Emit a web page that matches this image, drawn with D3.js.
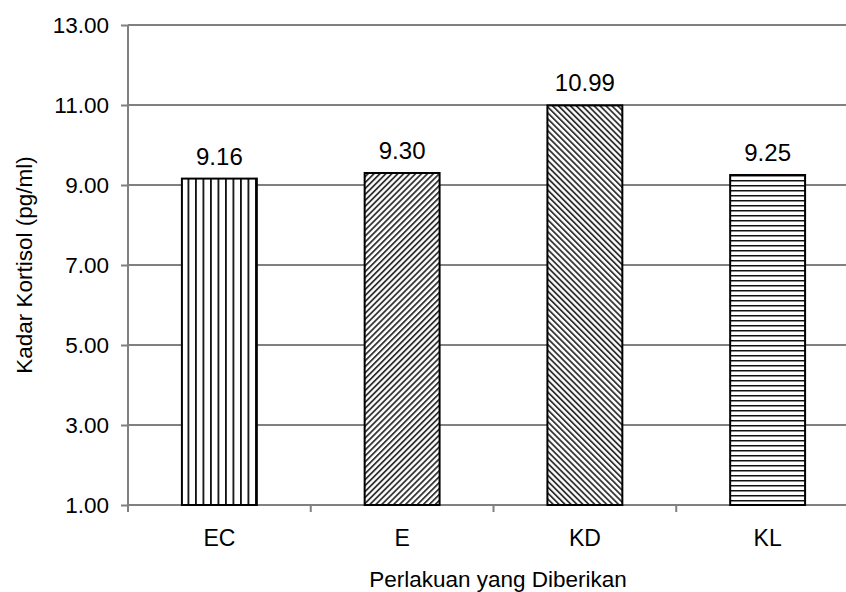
<!DOCTYPE html>
<html><head><meta charset="utf-8">
<script src="https://cdn.jsdelivr.net/npm/d3@7"></script>
<style>body{margin:0;background:#fff}svg{display:block;font-family:"Liberation Sans",Arial,sans-serif}</style>
</head><body><svg id="c" width="846" height="592"></svg>
<script>
const categories = ["EC","E","KD","KL"];
const values = [9.16, 9.30, 10.99, 9.25];
const valueLabels = ["9.16","9.30","10.99","9.25"];
const yTicks = [1,3,5,7,9,11,13];
const patterns = ["vert","diagUp","diagDown","horiz"];

const svg = d3.select("#c");
const m = {l:128, t:25, r:-13, b:87};
const W = 846, H = 592;
const FF = "Liberation Sans, Arial, sans-serif";
const x = d3.scaleBand().domain(categories).range([m.l, W - m.r]).paddingInner(0.59).paddingOuter(0.295);
const xb = d3.scaleBand().domain(categories).range([m.l, W - m.r]);
const y = d3.scaleLinear().domain([1,13]).range([H - m.b, m.t]);

const defs = svg.append("defs");
function pat(id, w, h, lines, rot){
  const p = defs.append("pattern").attr("id", id).attr("patternUnits","userSpaceOnUse")
    .attr("width", w).attr("height", h);
  if (rot) p.attr("patternTransform", "rotate(" + rot + ")");
  p.append("rect").attr("width", w).attr("height", h).attr("fill","#fff");
  lines(p);
}
pat("vert", 7.5, 10, p => p.append("rect").attr("x",0).attr("y",0).attr("width",1.8).attr("height",10).attr("fill","#111"));
pat("horiz", 10, 5, p => p.append("rect").attr("x",0).attr("y",0).attr("width",10).attr("height",1.5).attr("fill","#111"));
pat("diagUp", 4.2, 10, p => p.append("rect").attr("x",0).attr("y",0).attr("width",1.8).attr("height",10).attr("fill","#333"), 45);
pat("diagDown", 4.2, 10, p => p.append("rect").attr("x",0).attr("y",0).attr("width",1.8).attr("height",10).attr("fill","#333"), -45);

// gridlines
svg.append("g").selectAll("line").data(yTicks.slice(1)).join("line")
  .attr("x1", m.l).attr("x2", W).attr("y1", d => y(d)).attr("y2", d => y(d))
  .attr("stroke","#808080").attr("stroke-width",2);

// axes
const ya = svg.append("g").attr("transform",`translate(${m.l},0)`)
  .call(d3.axisLeft(y).tickValues(yTicks).tickFormat(d3.format(".2f")).tickSize(7).tickPadding(12));
ya.select(".domain").attr("stroke","#808080").attr("stroke-width",2).attr("d", `M0,${y(13)}V${y(1)+7}`);
ya.selectAll(".tick line").attr("stroke","#808080").attr("stroke-width",2);
ya.selectAll(".tick text").attr("font-size",22.5).attr("fill","#000").attr("font-family",FF);

const xa = svg.append("g").attr("transform",`translate(0,${y(1)})`)
  .call(d3.axisBottom(xb).tickSize(0).tickPadding(25));
xa.select(".domain").attr("stroke","#808080").attr("stroke-width",2).attr("d",`M${m.l},0H${W}`);
xa.selectAll(".tick text").attr("font-size",23).attr("fill","#000").attr("font-family",FF);
// boundary ticks
svg.append("g").selectAll("line").data(categories.slice(1)).join("line")
  .attr("x1", d => xb(d)).attr("x2", d => xb(d))
  .attr("y1", y(1)).attr("y2", y(1) + 7)
  .attr("stroke","#808080").attr("stroke-width",2);

// bars
svg.append("g").selectAll("rect").data(categories).join("rect")
  .attr("x", d => x(d)).attr("width", x.bandwidth())
  .attr("y", (d,i) => y(values[i])).attr("height", (d,i) => y(1) - y(values[i]))
  .attr("fill", (d,i) => `url(#${patterns[i]})`)
  .attr("stroke","#000").attr("stroke-width",2);

// value labels
svg.append("g").selectAll("text").data(categories).join("text")
  .attr("x", d => x(d) + x.bandwidth()/2).attr("y", (d,i) => y(values[i]) - 14)
  .attr("text-anchor","middle").attr("font-size",24).attr("fill","#000").attr("font-family",FF)
  .text((d,i) => valueLabels[i]);

// axis titles
svg.append("text").attr("x", 498).attr("y", 587).attr("text-anchor","middle").attr("font-family",FF)
  .attr("font-size",22.5).text("Perlakuan yang Diberikan");
svg.append("text").attr("transform",`translate(32,${(y(1)+y(13))/2}) rotate(-90)`).attr("font-family",FF)
  .attr("text-anchor","middle").attr("font-size",22.5).text("Kadar Kortisol (pg/ml)");
</script></body></html>
